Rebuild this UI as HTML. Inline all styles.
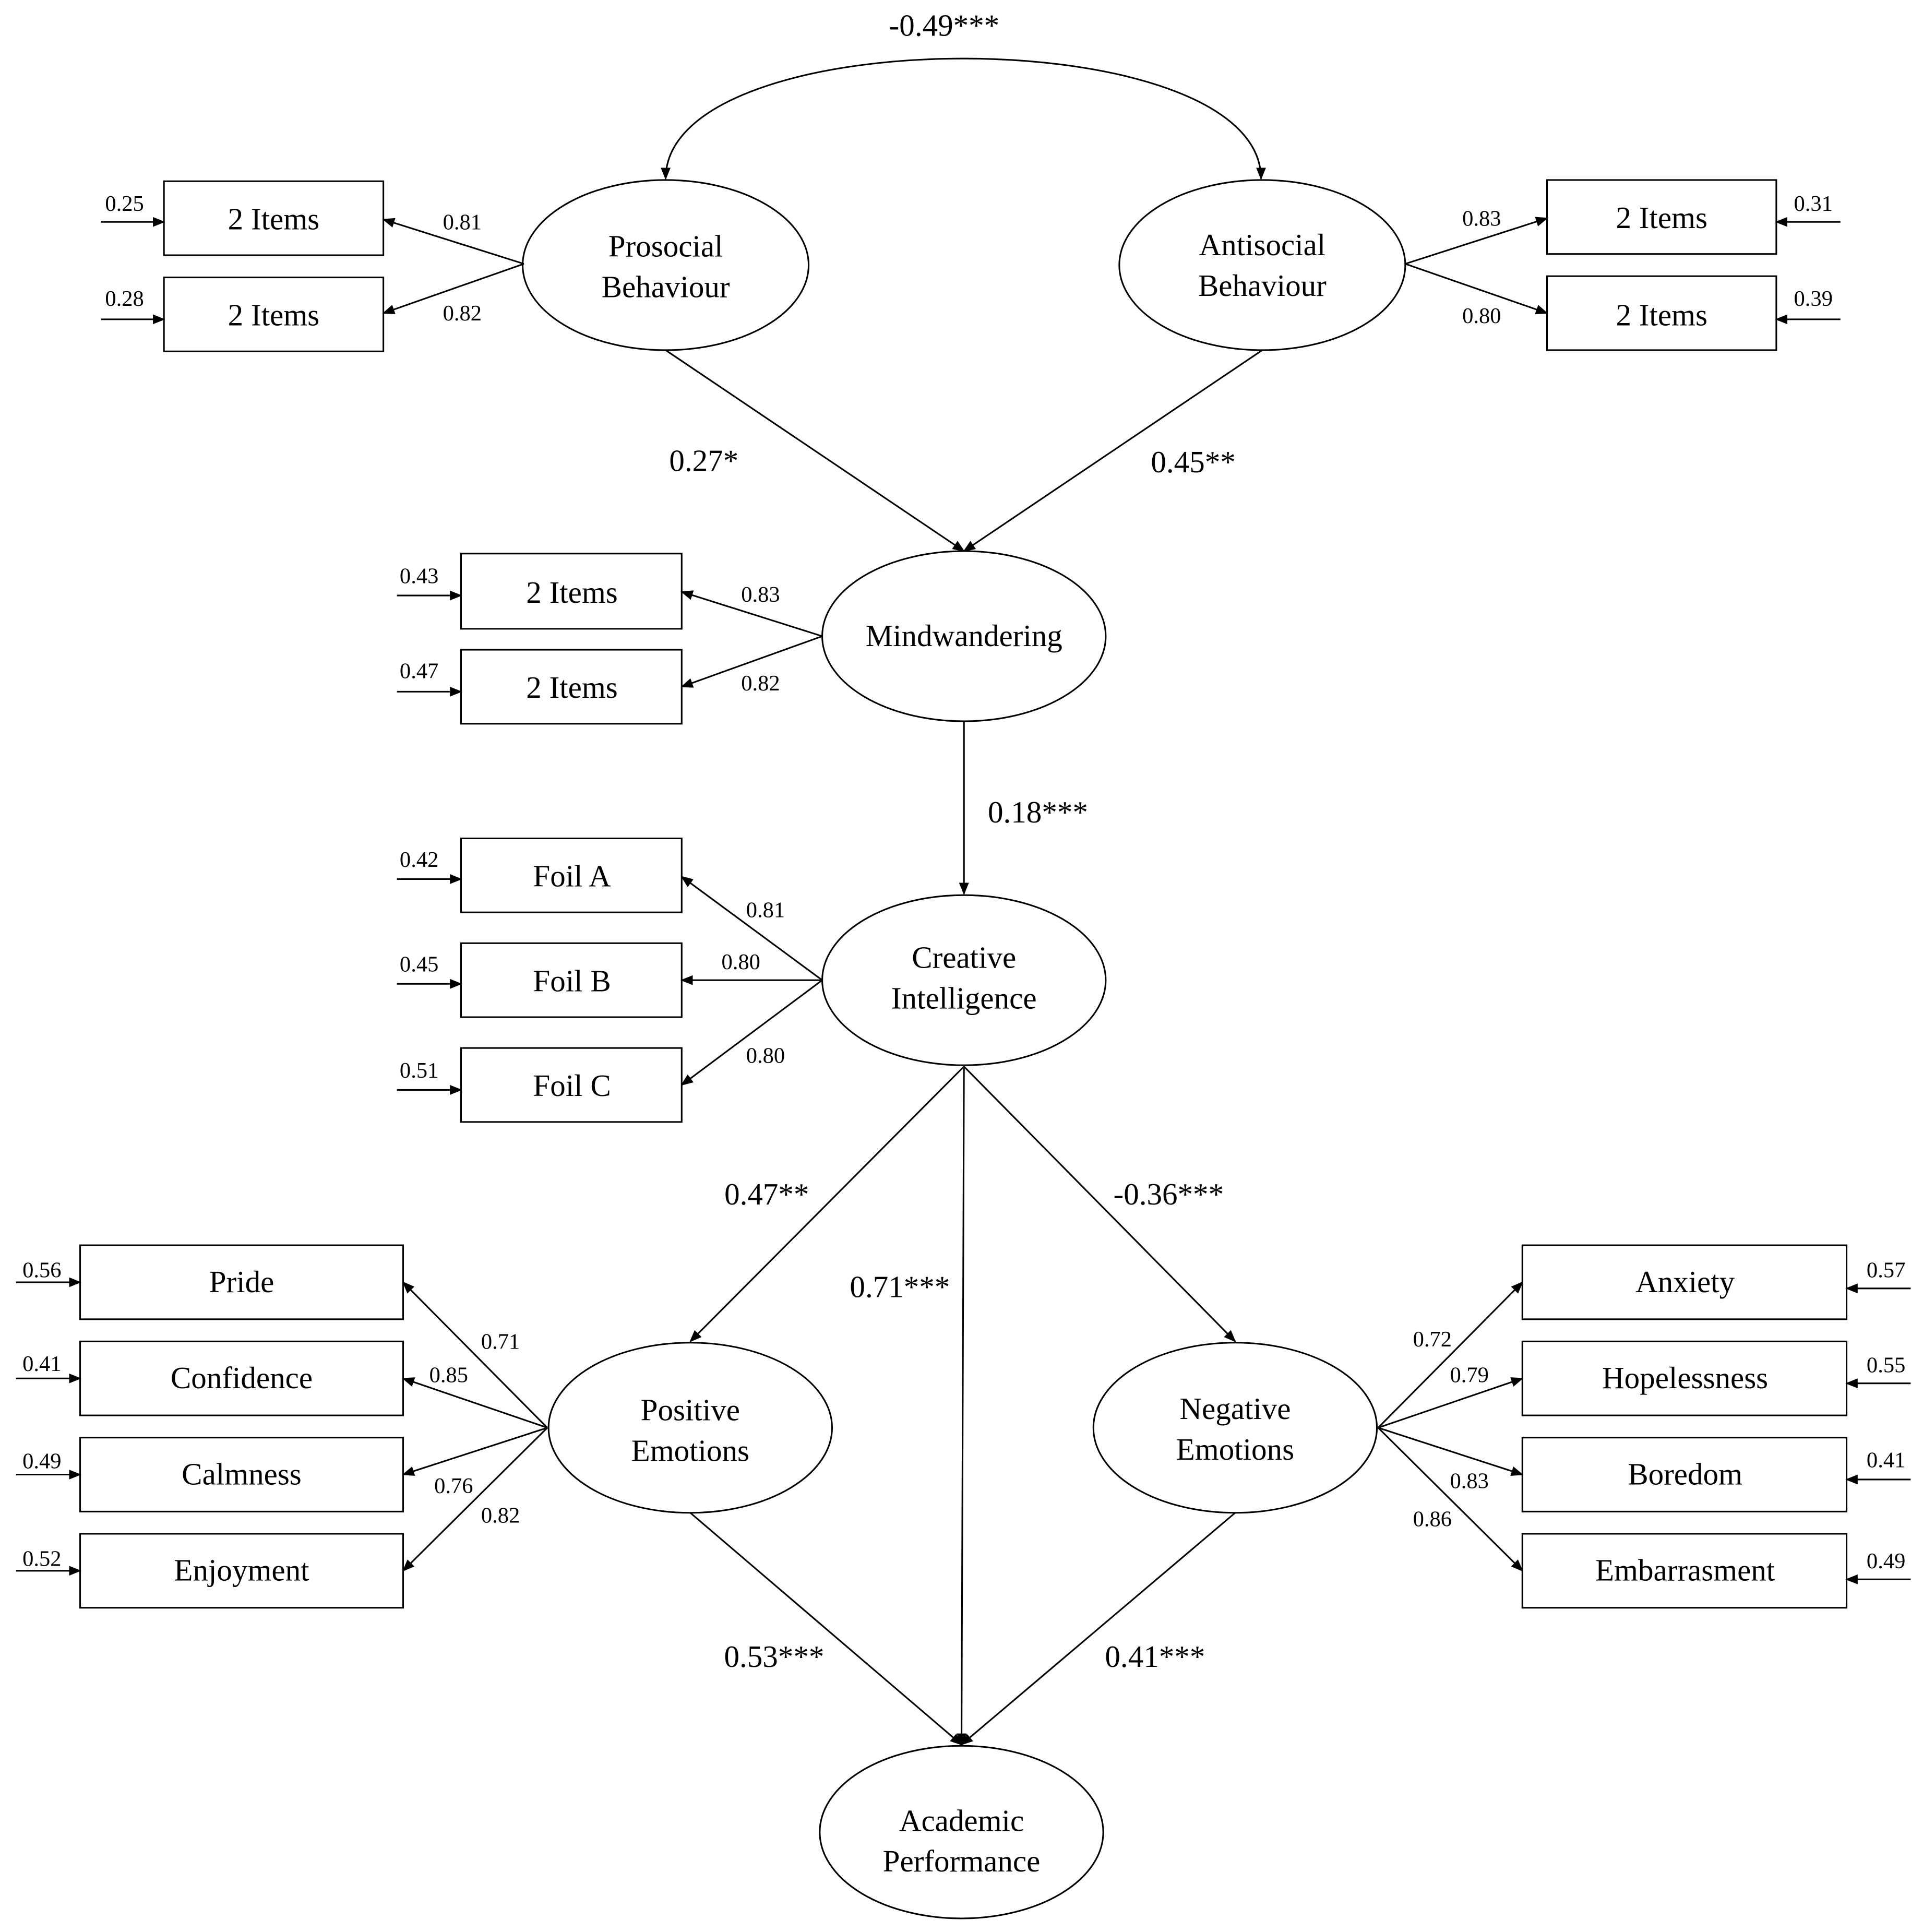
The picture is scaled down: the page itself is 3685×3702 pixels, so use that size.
<!DOCTYPE html>
<html><head><meta charset="utf-8"><style>html,body{margin:0;padding:0;background:#fff}svg{display:block}svg text{font-family:"Liberation Serif","DejaVu Serif",serif}</style></head><body>
<svg width="3685" height="3702" viewBox="0 0 1560 1567" preserveAspectRatio="none" xmlns="http://www.w3.org/2000/svg" style="font-family:'Liberation Serif',serif">
<defs><marker id="a" markerWidth="10" markerHeight="8" refX="9" refY="4" orient="auto-start-reverse" markerUnits="userSpaceOnUse"><path d="M0,0 L10,4 L0,8 z" fill="#000"/></marker></defs>
<g stroke="#000" stroke-width="1.3" fill="none">
<path d="M540,145 C540,15 1023,15 1023,145" marker-end="url(#a)" marker-start="url(#a)"/>
<ellipse cx="540" cy="215" rx="116" ry="69"/><ellipse cx="1024" cy="215" rx="116" ry="69"/>
<ellipse cx="782" cy="516" rx="115" ry="69"/><ellipse cx="782" cy="795" rx="115" ry="69"/>
<ellipse cx="560" cy="1158" rx="115" ry="69"/><ellipse cx="1002" cy="1158" rx="115" ry="69"/>
<ellipse cx="780" cy="1486" rx="115" ry="70"/>
<rect x="133" y="147" width="178" height="60"/><rect x="133" y="225" width="178" height="60"/>
<rect x="1255" y="146" width="186" height="60"/><rect x="1255" y="224" width="186" height="60"/>
<rect x="374" y="449" width="179" height="61"/><rect x="374" y="527" width="179" height="60"/>
<rect x="374" y="680" width="179" height="60"/><rect x="374" y="765" width="179" height="60"/><rect x="374" y="850" width="179" height="60"/>
<rect x="65" y="1010" width="262" height="60"/><rect x="65" y="1088" width="262" height="60"/><rect x="65" y="1166" width="262" height="60"/><rect x="65" y="1244" width="262" height="60"/>
<rect x="1235" y="1010" width="263" height="60"/><rect x="1235" y="1088" width="263" height="60"/><rect x="1235" y="1166" width="263" height="60"/><rect x="1235" y="1244" width="263" height="60"/>
</g>
<g stroke="#000" stroke-width="1.3" marker-end="url(#a)">
<line x1="82" y1="180" x2="133" y2="180"/><line x1="82" y1="259" x2="133" y2="259"/>
<line x1="425" y1="214" x2="311" y2="178"/><line x1="425" y1="214" x2="311" y2="254"/>
<line x1="1493" y1="180" x2="1441" y2="180"/><line x1="1493" y1="259" x2="1441" y2="259"/>
<line x1="1140" y1="214" x2="1255" y2="177"/><line x1="1140" y1="214" x2="1255" y2="254"/>
<line x1="540" y1="284" x2="782" y2="447"/><line x1="1024" y1="284" x2="782" y2="447"/>
<line x1="322" y1="483" x2="374" y2="483"/><line x1="322" y1="561" x2="374" y2="561"/>
<line x1="667" y1="516" x2="553" y2="480"/><line x1="667" y1="516" x2="553" y2="557"/>
<line x1="782" y1="585" x2="782" y2="725"/>
<line x1="322" y1="713" x2="374" y2="713"/><line x1="322" y1="798" x2="374" y2="798"/><line x1="322" y1="884" x2="374" y2="884"/>
<line x1="667" y1="795" x2="553" y2="711"/><line x1="667" y1="795" x2="553" y2="795"/><line x1="667" y1="795" x2="553" y2="880"/>
<line x1="782" y1="865" x2="560" y2="1088"/><line x1="782" y1="865" x2="1002" y2="1088"/><line x1="782" y1="865" x2="780" y2="1415"/>
<line x1="13" y1="1040" x2="65" y2="1040"/><line x1="13" y1="1118" x2="65" y2="1118"/><line x1="13" y1="1196" x2="65" y2="1196"/><line x1="13" y1="1274" x2="65" y2="1274"/>
<line x1="444" y1="1158" x2="327" y2="1040"/><line x1="444" y1="1158" x2="327" y2="1118"/><line x1="444" y1="1158" x2="327" y2="1196"/><line x1="444" y1="1158" x2="327" y2="1274"/>
<line x1="1550" y1="1045" x2="1498" y2="1045"/><line x1="1550" y1="1122" x2="1498" y2="1122"/><line x1="1550" y1="1200" x2="1498" y2="1200"/><line x1="1550" y1="1281" x2="1498" y2="1281"/>
<line x1="1118" y1="1158" x2="1235" y2="1040"/><line x1="1118" y1="1158" x2="1235" y2="1118"/><line x1="1118" y1="1158" x2="1235" y2="1196"/><line x1="1118" y1="1158" x2="1235" y2="1274"/>
<line x1="560" y1="1227" x2="780" y2="1415"/><line x1="1002" y1="1227" x2="780" y2="1415"/>
</g>
<g font-size="25" text-anchor="middle" fill="#000">
<text x="540" y="208">Prosocial</text><text x="540" y="241">Behaviour</text>
<text x="1024" y="207">Antisocial</text><text x="1024" y="240">Behaviour</text>
<text x="782" y="524">Mindwandering</text>
<text x="782" y="785">Creative</text><text x="782" y="818">Intelligence</text>
<text x="560" y="1152">Positive</text><text x="560" y="1185">Emotions</text>
<text x="1002" y="1151">Negative</text><text x="1002" y="1184">Emotions</text>
<text x="780" y="1485">Academic</text><text x="780" y="1518">Performance</text>
<text x="222" y="186">2 Items</text><text x="222" y="264">2 Items</text>
<text x="1348" y="185">2 Items</text><text x="1348" y="264">2 Items</text>
<text x="464" y="489">2 Items</text><text x="464" y="566">2 Items</text>
<text x="464" y="719">Foil A</text><text x="464" y="804">Foil B</text><text x="464" y="889">Foil C</text>
<text x="196" y="1048">Pride</text><text x="196" y="1126">Confidence</text><text x="196" y="1204">Calmness</text><text x="196" y="1282">Enjoyment</text>
<text x="1367" y="1048">Anxiety</text><text x="1367" y="1126">Hopelessness</text><text x="1367" y="1204">Boredom</text><text x="1367" y="1282">Embarrasment</text>
<text x="766" y="29">-0.49***</text>
<text x="571" y="382">0.27*</text><text x="968" y="383">0.45**</text>
<text x="842" y="667">0.18***</text>
<text x="622" y="977">0.47**</text><text x="948" y="977">-0.36***</text><text x="730" y="1052">0.71***</text>
<text x="628" y="1352">0.53***</text><text x="937" y="1352">0.41***</text>
</g>
<g font-size="18" text-anchor="middle" fill="#000">
<text x="101" y="171">0.25</text><text x="101" y="248">0.28</text>
<text x="375" y="186">0.81</text><text x="375" y="260">0.82</text>
<text x="1471" y="171">0.31</text><text x="1471" y="248">0.39</text>
<text x="1202" y="183">0.83</text><text x="1202" y="262">0.80</text>
<text x="340" y="473">0.43</text><text x="340" y="550">0.47</text>
<text x="617" y="488">0.83</text><text x="617" y="560">0.82</text>
<text x="340" y="703">0.42</text><text x="340" y="788">0.45</text><text x="340" y="874">0.51</text>
<text x="621" y="744">0.81</text><text x="601" y="786">0.80</text><text x="621" y="862">0.80</text>
<text x="34" y="1036">0.56</text><text x="34" y="1112">0.41</text><text x="34" y="1191">0.49</text><text x="34" y="1270">0.52</text>
<text x="406" y="1094">0.71</text><text x="364" y="1121">0.85</text><text x="368" y="1211">0.76</text><text x="406" y="1235">0.82</text>
<text x="1530" y="1036">0.57</text><text x="1530" y="1113">0.55</text><text x="1530" y="1190">0.41</text><text x="1530" y="1272">0.49</text>
<text x="1162" y="1092">0.72</text><text x="1192" y="1121">0.79</text><text x="1192" y="1207">0.83</text><text x="1162" y="1238">0.86</text>
</g>
</svg>
</body></html>
